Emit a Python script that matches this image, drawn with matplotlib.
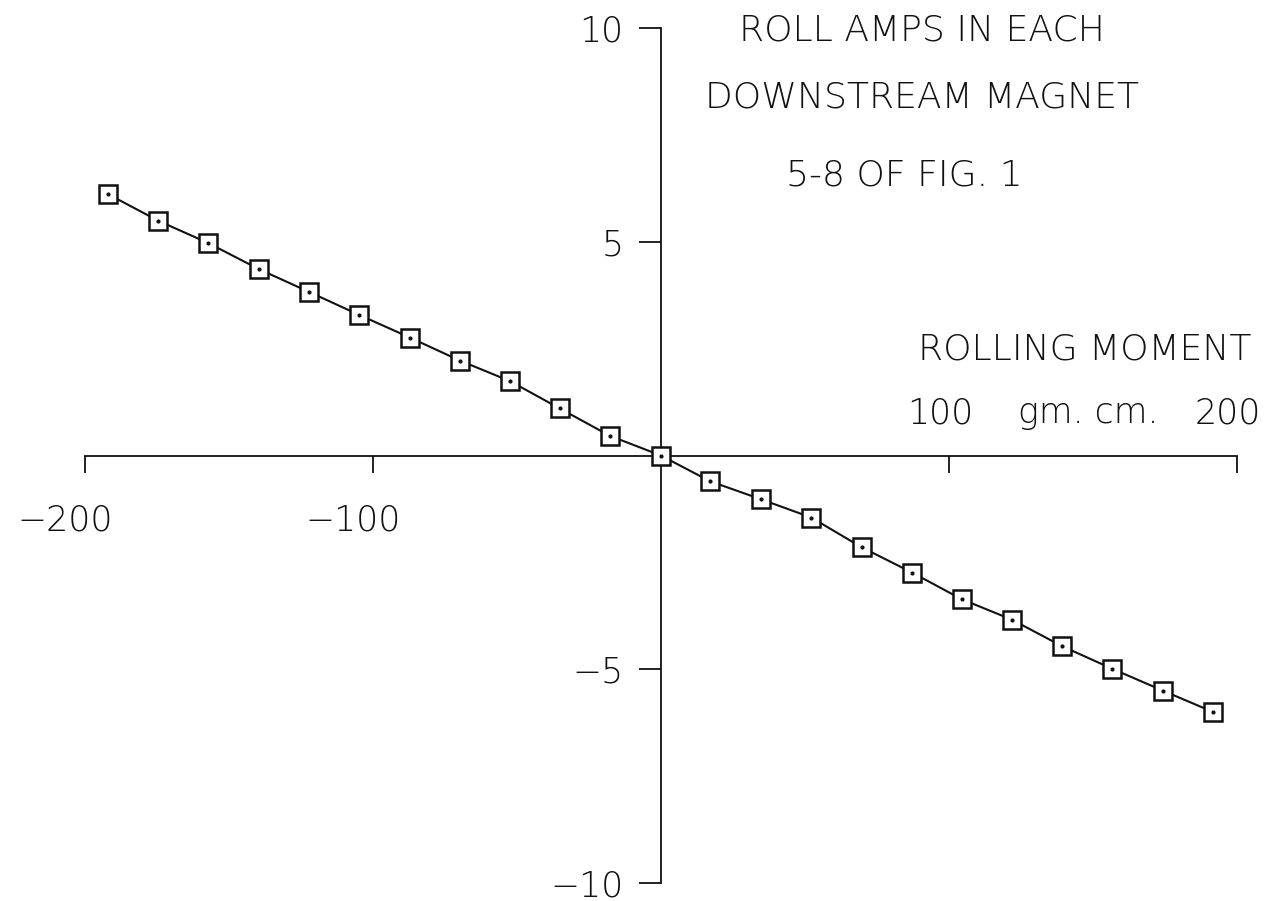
import matplotlib
matplotlib.use("Agg")
import matplotlib.pyplot as plt

# Rolling moment (gm. cm.) against roll current in each downstream magnet (amps)
moment = [-191.9, -174.5, -157.2, -139.6, -122.3, -104.8, -87.2, -69.8, -52.4, -35.1, -17.7, 0.0,
          17.0, 34.6, 52.2, 69.8, 87.3, 104.4, 121.9, 139.3, 156.8, 174.3, 191.8]
roll_amps = [6.11, 5.49, 4.97, 4.36, 3.83, 3.29, 2.76, 2.22, 1.74, 1.10, 0.46, 0.0,
             -0.60, -1.02, -1.45, -2.15, -2.74, -3.36, -3.84, -4.46, -4.99, -5.50, -6.00]

x_ticks = [-200, -100, 100, 200]
x_tick_labels = ["\u2212200", "\u2212100", "100", "200"]
y_ticks = [10, 5, -5, -10]
y_tick_labels = ["10", "5", "\u22125", "\u221210"]
title_lines = ["ROLL AMPS IN EACH", "DOWNSTREAM MAGNET", "5-8 OF FIG. 1"]
x_label = "ROLLING MOMENT"
x_unit = "gm. cm."

FONT = dict(family=["DejaVu Sans"], fontweight="light")
LBL = 25
TTL = 26
INK = "#111111"

fig = plt.figure(figsize=(12.87, 9.01), dpi=100)
fig.patch.set_facecolor("white")
ax = fig.add_axes([0, 0, 1, 1])
ax.set_xlim(-229.5, 217.4)
ax.set_ylim(-10.42, 10.655)
ax.set_facecolor("white")

# axes crossing at the origin, plotter style
for side in ("top", "right"):
    ax.spines[side].set_visible(False)
ax.spines["left"].set_position(("data", 0))
ax.spines["bottom"].set_position(("data", 0))
ax.spines["left"].set_bounds(-10, 10)
ax.spines["bottom"].set_bounds(-200, 200)
for side in ("left", "bottom"):
    ax.spines[side].set_linewidth(1.3)
    ax.spines[side].set_color(INK)

ax.set_xticks(x_ticks)
ax.set_xticklabels([])
ax.tick_params(axis="x", direction="out", length=12, width=1.3, color=INK)
ax.set_yticks(y_ticks)
ax.set_yticklabels(y_tick_labels, fontsize=LBL, color=INK, **FONT)
ax.tick_params(axis="y", direction="out", length=16, width=1.3, pad=11, color=INK)

# x tick labels: negatives under the axis, positives above it on the unit line
for t, lab in zip(x_ticks, x_tick_labels):
    if t < 0:
        ax.text(t - 7, -1.53, lab, ha="center", va="center", fontsize=LBL, color=INK, **FONT)
    else:
        ax.text(t - 3, 0.76, lab, ha="center", va="baseline", fontsize=LBL, color=INK, **FONT)
ax.text(148.4, 0.76, x_unit, ha="center", va="baseline", fontsize=LBL, color=INK, **FONT)
ax.text(147.2, 2.49, x_label, ha="center", va="center", fontsize=TTL, color=INK, **FONT)

# title block to the right of the vertical axis
ax.text(90.6, 9.93, title_lines[0], ha="center", va="center", fontsize=TTL, color=INK, **FONT)
ax.text(90.6, 8.37, title_lines[1], ha="center", va="center", fontsize=TTL, color=INK, **FONT)
ax.text(84.4, 6.56, title_lines[2], ha="center", va="center", fontsize=TTL, color=INK, **FONT)

# data: open squares with a centre dot, joined by a line
ax.plot(moment, roll_amps, color=INK, linewidth=1.5, marker="s", markersize=13.5,
        markerfacecolor="white", markeredgecolor=INK, markeredgewidth=1.8, zorder=3)
ax.plot(moment, roll_amps, linestyle="none", marker="o", markersize=2,
        color=INK, zorder=4)

fig.savefig("out.png", dpi=100, facecolor="white")
